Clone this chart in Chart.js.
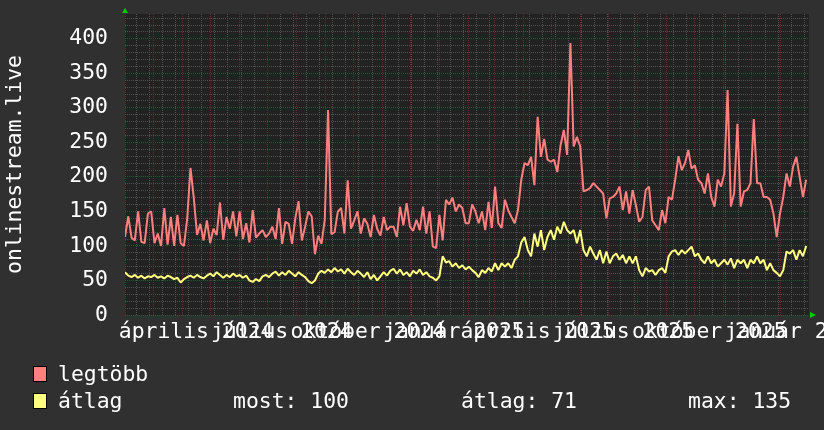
<!DOCTYPE html>
<html><head><meta charset="utf-8">
<script src="https://cdn.jsdelivr.net/npm/chart.js@4.4.1/dist/chart.umd.min.js"></script>
<style>html,body{margin:0;padding:0;background:#303030;overflow:hidden}</style>
</head><body>
<canvas id="c" width="824" height="430"></canvas>
<script>
// ---- data ----
const seriesNames = ['legtöbb', 'átlag'];
const dayStep = 3.5;          // days between samples (series start 2024-01-31)
const totalDays = 731;
const yMax = 436;
const maxValues = [
 113,143,112,108,150,106,104,147,150,104,
 118,100,155,102,142,100,145,104,100,140,
 213,170,116,132,108,137,104,125,116,163,
 109,142,125,150,114,150,110,133,105,152,
 112,118,123,113,118,128,110,155,103,135,
 132,103,140,165,108,128,150,143,88,115,
 103,138,297,117,120,150,155,118,195,125,
 137,150,118,140,132,113,145,125,115,142,
 123,128,128,113,157,130,162,128,122,138,
 123,157,118,150,99,97,145,108,167,160,
 170,150,160,155,133,133,160,150,133,150,
 123,164,126,186,133,126,167,152,142,133,
 152,196,220,217,229,188,287,229,255,225,
 222,225,207,246,268,232,394,244,258,244,
 179,181,184,191,186,181,176,140,169,171,
 176,186,152,179,147,181,159,135,142,181,
 186,137,130,123,152,133,171,167,196,230,
 210,220,239,212,217,196,191,176,205,171,
 157,196,186,205,326,157,176,277,157,179,
 181,191,284,191,191,171,171,167,147,113,
 147,171,205,186,215,229,200,171,196
];
const avgValues = [
 62,57,55,58,54,57,53,56,55,58,
 54,56,53,57,55,52,54,47,52,55,
 57,54,58,55,53,57,60,56,62,58,
 54,58,55,60,56,58,54,57,50,48,
 52,49,56,58,55,60,63,57,62,58,
 64,60,56,62,58,55,49,46,50,60,
 64,61,66,62,68,63,66,60,67,62,
 58,64,60,55,62,52,58,50,56,62,
 57,64,67,60,66,58,62,56,64,60,
 66,58,62,56,54,50,56,85,76,78,
 70,75,68,72,66,70,65,61,55,65,
 61,68,63,75,65,75,70,75,68,80,
 85,105,113,94,85,118,99,123,94,113,
 123,109,128,118,135,123,118,123,104,123,
 94,85,99,89,80,94,75,92,75,85,
 89,80,87,75,85,75,85,65,56,68,
 63,65,58,65,68,61,85,92,94,87,
 94,89,94,99,85,89,80,75,85,75,
 80,70,75,80,73,82,68,80,75,80,
 68,80,75,85,75,80,65,75,65,61,
 56,65,92,89,94,80,94,85,100
];
const xLabels = ['április 2024','július 2024','október 2024','január 2025','április 2025','július 2025','október 2025','január 2026'];
const xLabelDays = [76, 167.5, 259.5, 351.5, 441, 532.5, 624.5, 716.5];
const monthStartDays = [1,30,61,91,122,152,183,214,244,275,305,336,367,395,426,456,487,517,548,579,609,640,670,701];
const yTickValues = [0,50,100,150,200,250,300,350,400];
const statLabels = ['most:', 'átlag:', 'max:'];
const statValues = [100, 71, 135];
const yTitle = 'onlinestream.live';

// ---- style ----
const RED = '#ff7f7f', YEL = '#ffff80';
const GRID_MINOR = '#505050', GRID_MAJOR = '#6e3434', GRID_MAJOR_X = '#5a2e2e';
const FONT = "'DejaVu Sans Mono', monospace";

const minorDays = [];
for (let d = 12; d < totalDays; d += 14) minorDays.push(d);
const xTicks = []
  .concat(minorDays.map(v => ({value: v, kind: 'minor'})))
  .concat(monthStartDays.map(v => ({value: v, kind: 'major'})))
  .concat(xLabelDays.map((v, i) => ({value: v, kind: 'label', text: xLabels[i]})))
  .sort((a, b) => a.value - b.value);
const yGrid = [];
for (let v = 0; v <= 430; v += 10) yGrid.push(v);

const rrdPlugin = {
  id: 'rrd',
  beforeDraw(chart) {
    const {ctx, chartArea: a} = chart;
    ctx.save();
    ctx.fillStyle = '#303030';
    ctx.fillRect(0, 0, chart.width, chart.height);
    ctx.fillStyle = '#222222';
    ctx.fillRect(a.left, a.top, a.right - a.left, a.bottom - a.top);
    ctx.restore();
  },
  afterDraw(chart) {
    const {ctx, chartArea: a} = chart;
    ctx.save();
    // axis arrows
    ctx.fillStyle = '#00cc00';
    ctx.beginPath();
    ctx.moveTo(a.left - 3, a.top - 1); ctx.lineTo(a.left + 3, a.top - 1); ctx.lineTo(a.left, a.top - 6);
    ctx.closePath(); ctx.fill();
    ctx.beginPath();
    ctx.moveTo(a.right + 1, a.bottom - 3); ctx.lineTo(a.right + 1, a.bottom + 3); ctx.lineTo(a.right + 7, a.bottom);
    ctx.closePath(); ctx.fill();
    // legend
    ctx.font = '21.4px ' + FONT;
    ctx.textBaseline = 'alphabetic';
    ctx.textAlign = 'left';
    const txt = (s, x, y) => { ctx.fillStyle = '#ffffff'; ctx.fillText(s, x, y); };
    const sw = (col, y) => {
      ctx.fillStyle = col; ctx.fillRect(33, y, 14, 16);
      ctx.strokeStyle = '#000'; ctx.lineWidth = 1; ctx.strokeRect(33.5, y + 0.5, 13, 15);
    };
    sw(RED, 366); txt(seriesNames[0], 58, 381);
    sw(YEL, 393); txt(seriesNames[1], 58, 408);
    txt(statLabels[0] + ' ' + statValues[0], 233, 408);
    txt(statLabels[1] + ' ' + statValues[1], 461, 408);
    txt(statLabels[2] + ' ' + statValues[2], 688, 408);
    ctx.restore();
  }
};

const toPts = arr => arr.map((v, i) => ({x: i * dayStep, y: v}));

new Chart(document.getElementById('c'), {
  type: 'line',
  data: {
    datasets: [
      {label: seriesNames[0], data: toPts(maxValues), borderColor: RED, borderWidth: 2, pointRadius: 0, tension: 0, fill: false, borderJoinStyle: 'bevel'},
      {label: seriesNames[1], data: toPts(avgValues), borderColor: YEL, borderWidth: 2, pointRadius: 0, tension: 0, fill: false, borderJoinStyle: 'bevel'}
    ]
  },
  options: {
    responsive: false, animation: false, devicePixelRatio: 1,
    layout: {padding: {top: 14, right: 15, left: 0, bottom: 0}},
    plugins: {legend: {display: false}, tooltip: {enabled: false}},
    scales: {
      x: {
        type: 'linear', min: 0, max: totalDays, position: 'bottom',
        afterBuildTicks: s => { s.ticks = xTicks.map(t => Object.assign({}, t)); },
        ticks: {autoSkip: false, maxRotation: 0, minRotation: 0, color: '#ffffff', padding: 5,
          font: {family: FONT, size: 21.4},
          callback: (v, i, t) => (t[i] && t[i].text) ? t[i].text : ''},
        grid: {drawTicks: false,
          color: c => !c.tick ? GRID_MINOR : (c.tick.kind === 'major' ? GRID_MAJOR_X : (c.tick.kind === 'label' ? 'rgba(0,0,0,0)' : GRID_MINOR)),
          lineWidth: c => (c.tick && c.tick.kind === 'label') ? 0 : 1},
        border: {display: false, dash: [1, 1]},
        afterFit: s => { s.height = 115; s.paddingLeft = 0; s.paddingRight = 0; }
      },
      y: {
        type: 'linear', min: 0, max: yMax, position: 'left',
        afterBuildTicks: s => { s.ticks = yGrid.map(v => ({value: v})); },
        ticks: {autoSkip: false, color: '#ffffff', padding: 17,
          font: {family: FONT, size: 21.4},
          callback: v => yTickValues.includes(v) ? String(v) : ''},
        grid: {drawTicks: false, color: c => (c.tick && c.tick.value % 50 === 0) ? GRID_MAJOR : GRID_MINOR, lineWidth: 1},
        border: {display: false, dash: [1, 1]},
        title: {display: true, text: yTitle, color: '#ffffff', font: {family: FONT, size: 21.4}, padding: {top: 3, bottom: 0}},
        afterFit: s => { s.width = 125; s.paddingTop = 0; s.paddingBottom = 0; }
      }
    }
  },
  plugins: [rrdPlugin]
});
</script>
</body></html>
